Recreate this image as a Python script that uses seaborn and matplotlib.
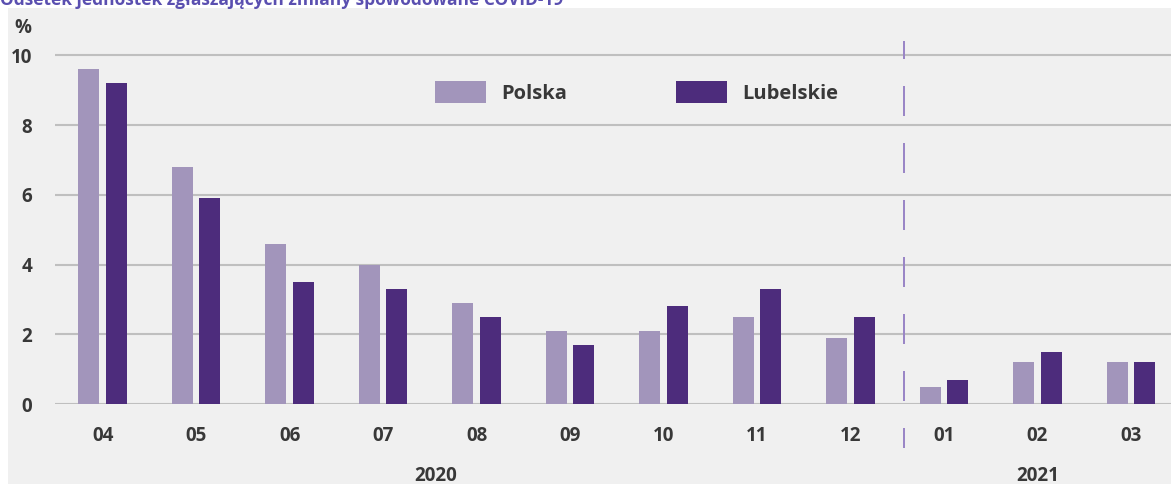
import numpy as np
import pandas as pd
import seaborn as sns
import matplotlib.pyplot as plt
from matplotlib.patches import Rectangle
import matplotlib.transforms as mtransforms

# data
months = ["04", "05", "06", "07", "08", "09", "10", "11", "12", "01", "02", "03"]
polska = [9.6, 6.8, 4.6, 4.0, 2.9, 2.1, 2.1, 2.5, 1.9, 0.5, 1.2, 1.2]
lubelskie = [9.2, 5.9, 3.5, 3.3, 2.5, 1.7, 2.8, 3.3, 2.5, 0.7, 1.5, 1.2]
years = ["2020", "2021"]
y_ticks = [0, 2, 4, 6, 8, 10]
title = "Odsetek jednostek zgłaszających zmiany spowodowane COVID-19"

df = pd.DataFrame({"miesiac": months * 2,
                   "wartosc": polska + lubelskie,
                   "region": ["Polska"] * len(months) + ["Lubelskie"] * len(months)})

sns.set_theme(style="white")
plt.rcParams["font.family"] = ["Open Sans", "DejaVu Sans"]

txt = "#383838"
colors = {"Polska": "#a08fc1", "Lubelskie": "#4a1f89"}

fig = plt.figure(figsize=(11.71, 4.84), dpi=100, facecolor="white")
# grey panel (white strip at left and top)
fig.patches.append(Rectangle((8 / 1171, 0), 1, 1 - 8 / 484, transform=fig.transFigure,
                             facecolor="#f0f0f0", edgecolor="none", zorder=-10))
ax = fig.add_axes([55 / 1171, 80 / 484, 1 - 55 / 1171, 366 / 484])
ax.set_facecolor("none")

sns.barplot(data=df, x="miesiac", y="wartosc", hue="region", order=months,
            palette=colors, width=0.59, gap=0.24, linewidth=0, ax=ax, zorder=3,
            legend=True)

ax.set_xlim(-0.51, 11.43)
ax.set_ylim(0, 10.5)
ax.set_yticks(y_ticks)
ax.yaxis.grid(True, color="#bfbfbf", linewidth=1.5, zorder=0)
ax.set_axisbelow(True)
for s in ax.spines.values():
    s.set_visible(False)
ax.set_xlabel("")
ax.set_ylabel("")
ax.tick_params(axis="y", length=0, pad=16.5, labelsize=13.5, labelcolor=txt)
ax.tick_params(axis="x", length=0, pad=16, labelsize=13.5, labelcolor=txt)
for lab in ax.get_xticklabels() + ax.get_yticklabels():
    lab.set_fontweight("bold")

# divider between 2020 and 2021
split = months.index("01") - 0.43
ax.axvline(split, ymin=-0.120, ymax=0.992, color="#9a86c6", lw=1.44,
           linestyle=(5, (15, 13.5)), clip_on=False, zorder=4)

# year labels under the months
trans = mtransforms.blended_transform_factory(ax.transData, ax.transAxes)
ax.text(3.56, -0.197, years[0], transform=trans, ha="center", va="center",
        fontsize=13.5, fontweight="bold", color=txt)
ax.text(months.index("02"), -0.197, years[1], transform=trans, ha="center", va="center",
        fontsize=13.5, fontweight="bold", color=txt)

# unit label
fig.text(23 / 1171, 1 - 28 / 484, "%", ha="center", va="center",
         fontsize=13.5, fontweight="bold", color=txt)

# title, cut off by the top edge as in the source
fig.text(0, 1 - 5 / 484, title, ha="left", va="baseline", fontsize=12.5,
         fontweight="bold", color="#5a4fb0")

leg = ax.legend(loc="center left", bbox_to_anchor=(0.3405, 0.852), ncol=2,
                frameon=False, borderpad=0, borderaxespad=0,
                handlelength=2.55, handleheight=1.3, handletextpad=0.75,
                columnspacing=5.4, fontsize=14.5,
                prop={"weight": "bold", "size": 14.5})
for t in leg.get_texts():
    t.set_color(txt)

fig.savefig("out.png", dpi=100, facecolor=fig.get_facecolor())
